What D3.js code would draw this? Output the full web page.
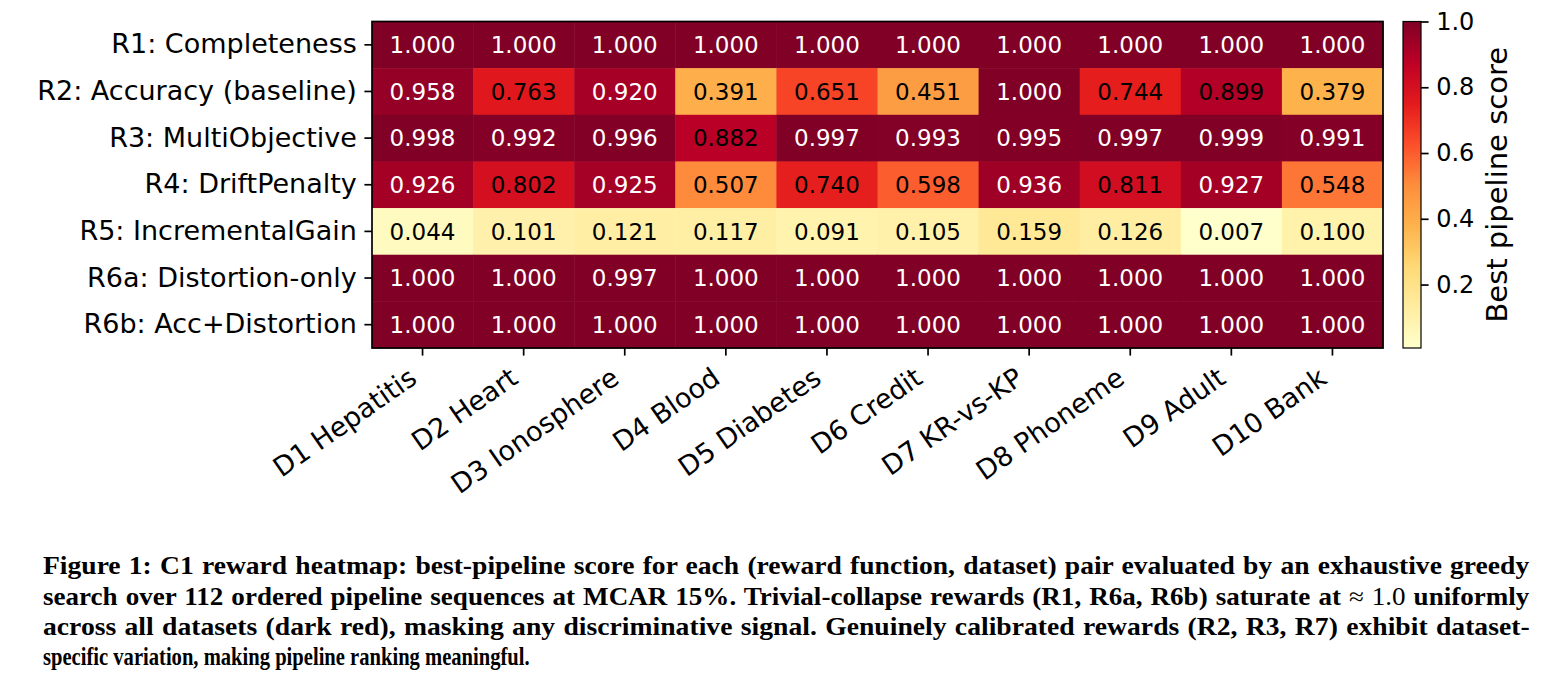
<!DOCTYPE html>
<html>
<head>
<meta charset="utf-8">
<script src="https://cdn.jsdelivr.net/npm/d3@7"></script>
<style>
  body { margin: 0; background: #fff; }
  svg { display: block; }
</style>
</head>
<body>
<div id="chart"></div>
<script>
// Rows (reward functions) and columns (datasets)
var rewards = ["R1: Completeness", "R2: Accuracy (baseline)", "R3: MultiObjective",
               "R4: DriftPenalty", "R5: IncrementalGain", "R6a: Distortion-only", "R6b: Acc+Distortion"];
var datasets = ["D1 Hepatitis", "D2 Heart", "D3 Ionosphere", "D4 Blood", "D5 Diabetes",
                "D6 Credit", "D7 KR-vs-KP", "D8 Phoneme", "D9 Adult", "D10 Bank"];

// Best pipeline score, one array per reward row
var r1  = [1.000, 1.000, 1.000, 1.000, 1.000, 1.000, 1.000, 1.000, 1.000, 1.000];
var r2  = [0.958, 0.763, 0.920, 0.391, 0.651, 0.451, 1.000, 0.744, 0.899, 0.379];
var r3  = [0.998, 0.992, 0.996, 0.882, 0.997, 0.993, 0.995, 0.997, 0.999, 0.991];
var r4  = [0.926, 0.802, 0.925, 0.507, 0.740, 0.598, 0.936, 0.811, 0.927, 0.548];
var r5  = [0.044, 0.101, 0.121, 0.117, 0.091, 0.105, 0.159, 0.126, 0.007, 0.100];
var r6a = [1.000, 1.000, 0.997, 1.000, 1.000, 1.000, 1.000, 1.000, 1.000, 1.000];
var r6b = [1.000, 1.000, 1.000, 1.000, 1.000, 1.000, 1.000, 1.000, 1.000, 1.000];
var rows = [r1, r2, r3, r4, r5, r6a, r6b];

var cbarTicks = [0.2, 0.4, 0.6, 0.8, 1.0];

// "|" marks the part set in the upright (math) font
var captionLines = [
  "Figure 1: C1 reward heatmap: best-pipeline score for each (reward function, dataset) pair evaluated by an exhaustive greedy",
  "search over 112 ordered pipeline sequences at MCAR 15%. Trivial-collapse rewards (R1, R6a, R6b) saturate at |\u2248 1.0| uniformly",
  "across all datasets (dark red), masking any discriminative signal. Genuinely calibrated rewards (R2, R3, R7) exhibit dataset-",
  "specific variation, making pipeline ranking meaningful."
];

// YlOrRd (matplotlib / colorbrewer 9 class)
var ylorrd = ["#ffffcc", "#ffeda0", "#fed976", "#feb24c", "#fd8d3c", "#fc4e2a", "#e31a1c", "#bd0026", "#800026"];

var W = 1549, H = 689;
var mLeft = 372, mTop = 21.5, mRight = 1383, mBottom = 348;
var tickLen = 7.6;
var font = "'DejaVu Sans', sans-serif";

var svg = d3.select("#chart").append("svg")
    .attr("width", W)
    .attr("height", H);

// flatten to cells
var cells = [];
rows.forEach(function(vals, i) {
    vals.forEach(function(v, j) {
        cells.push({r: rewards[i], d: datasets[j], v: v});
    });
});

var vmin = d3.min(cells, function(c) { return c.v; });
var vmax = d3.max(cells, function(c) { return c.v; });

var x = d3.scaleBand().domain(datasets).range([mLeft, mRight]);
var y = d3.scaleBand().domain(rewards).range([mTop, mBottom]);
var norm = d3.scaleLinear().domain([vmin, vmax]).range([0, 1]).clamp(true);
var cmap = d3.scaleLinear()
    .domain(ylorrd.map(function(c, i) { return i / (ylorrd.length - 1); }))
    .range(ylorrd)
    .interpolate(d3.interpolateRgb);
function color(v) { return cmap(norm(v)); }

// heatmap cells
svg.append("g").selectAll("rect")
    .data(cells)
    .enter().append("rect")
    .attr("x", function(d) { return x(d.d); })
    .attr("y", function(d) { return y(d.r); })
    .attr("width", x.bandwidth() + 0.5)
    .attr("height", y.bandwidth() + 0.5)
    .attr("fill", function(d) { return color(d.v); });

// cell annotations
svg.append("g").selectAll("text")
    .data(cells)
    .enter().append("text")
    .attr("x", function(d) { return x(d.d) + x.bandwidth() / 2; })
    .attr("y", function(d) { return y(d.r) + y.bandwidth() / 2; })
    .attr("dy", "0.36em")
    .attr("text-anchor", "middle")
    .style("font-family", font)
    .style("font-size", "23px")
    .attr("fill", function(d) { return d.v > 0.9 ? "#fff" : "#000"; })
    .text(function(d) { return d.v.toFixed(3); });

// frame
svg.append("rect")
    .attr("x", mLeft).attr("y", mTop)
    .attr("width", mRight - mLeft).attr("height", mBottom - mTop)
    .attr("fill", "none")
    .attr("stroke", "#000")
    .attr("stroke-width", 1.7);

// y axis
var yAxis = svg.append("g")
    .attr("transform", "translate(" + mLeft + ",0)")
    .call(d3.axisLeft(y).tickSize(tickLen).tickPadding(7.6));
yAxis.select(".domain").remove();
yAxis.selectAll("line").attr("stroke-width", 1.7);
yAxis.selectAll("text")
    .style("font-family", font)
    .style("font-size", "27px")
    .attr("fill", "#000");

// x axis, rotated labels
var xAxis = svg.append("g")
    .attr("transform", "translate(0," + mBottom + ")")
    .call(d3.axisBottom(x).tickSize(tickLen));
xAxis.select(".domain").remove();
xAxis.selectAll("line").attr("stroke-width", 1.7);
xAxis.selectAll("text")
    .style("font-family", font)
    .style("font-size", "27px")
    .attr("fill", "#000")
    .attr("text-anchor", "end")
    .attr("x", 0).attr("y", 0).attr("dy", 0)
    .attr("transform", "translate(-4,34) rotate(-35)");

// colorbar
var cbX = 1403, cbW = 18;
var defs = svg.append("defs");
var grad = defs.append("linearGradient")
    .attr("id", "cbar")
    .attr("x1", 0).attr("y1", 1).attr("x2", 0).attr("y2", 0);
grad.selectAll("stop")
    .data(ylorrd)
    .enter().append("stop")
    .attr("offset", function(c, i) { return i / (ylorrd.length - 1); })
    .attr("stop-color", function(c) { return c; });

svg.append("rect")
    .attr("x", cbX).attr("y", mTop)
    .attr("width", cbW).attr("height", mBottom - mTop)
    .attr("fill", "url(#cbar)")
    .attr("stroke", "#000")
    .attr("stroke-width", 1.2);

var cy = d3.scaleLinear().domain([vmin, vmax]).range([mBottom, mTop]);
var cAxis = svg.append("g")
    .attr("transform", "translate(" + (cbX + cbW) + ",0)")
    .call(d3.axisRight(cy).tickValues(cbarTicks).tickFormat(d3.format(".1f")).tickSize(tickLen).tickPadding(7.6));
cAxis.select(".domain").remove();
cAxis.selectAll("line").attr("stroke-width", 1.7);
cAxis.selectAll("text")
    .style("font-family", font)
    .style("font-size", "24px")
    .attr("fill", "#000");

svg.append("text")
    .attr("transform", "translate(1507," + ((mTop + mBottom) / 2) + ") rotate(-90)")
    .attr("text-anchor", "middle")
    .style("font-family", font)
    .style("font-size", "29px")
    .text("Best pipeline score");

// caption: serif bold, each line scaled to its width, full lines justified
var capFont = "'Liberation Serif', 'Times New Roman', serif";
var capX = 43;
var capWidth = [1487, 1487, 1487, 487];
var capY = [574, 605, 635, 665];
captionLines.forEach(function(line, i) {
    var t = svg.append("text")
        .style("font-family", capFont)
        .style("font-size", "25px")
        .style("font-weight", "bold");
    line.split("|").forEach(function(part, k) {
        t.append("tspan")
            .style("font-weight", k % 2 === 1 ? "normal" : "bold")
            .text(part);
    });
    var nat = t.node().getComputedTextLength();
    var isLast = i === captionLines.length - 1;
    var sx = capWidth[i] / nat * (isLast ? 1 : 0.985);
    t.attr("transform", "translate(" + capX + "," + capY[i] + ") scale(" + sx + ",1)");
    if (!isLast) {
        var spaces = line.split(" ").length - 1;
        t.style("word-spacing", ((capWidth[i] / sx - nat) / spaces) + "px");
    }
});
</script>
</body>
</html>
